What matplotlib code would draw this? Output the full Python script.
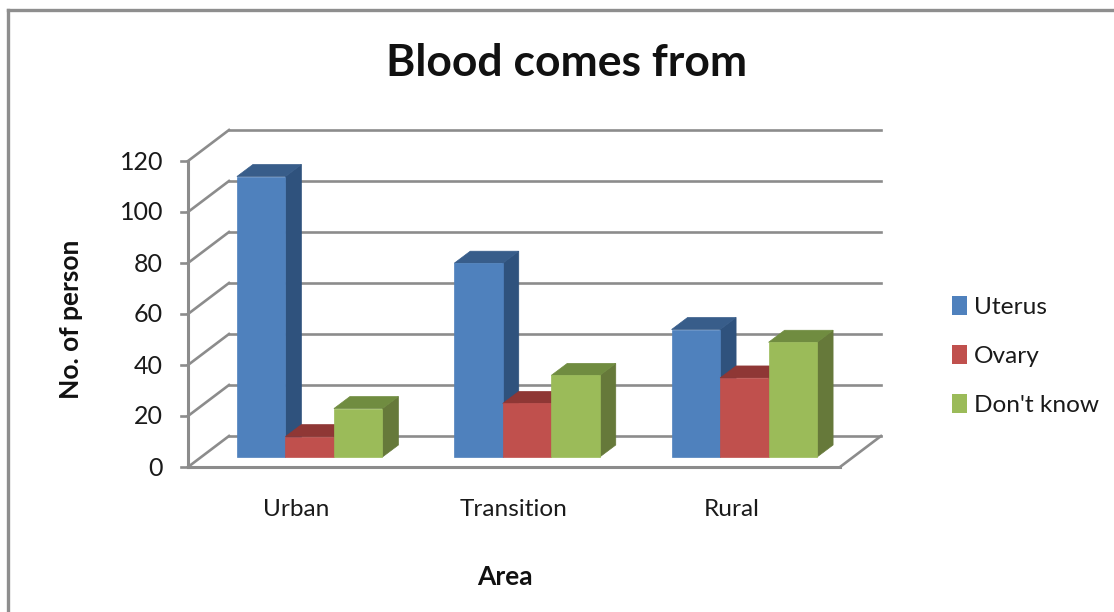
import matplotlib
matplotlib.use("Agg")
import matplotlib.pyplot as plt
from matplotlib.patches import Patch, Polygon, Rectangle
import numpy as np

plt.rcParams['font.family'] = ['Lato', 'DejaVu Sans']

areas = ['Urban', 'Transition', 'Rural']
series_names = ['Uterus', 'Ovary', "Don't know"]
uterus = [110, 76, 50]
ovary = [8, 21, 31]
dont_know = [19, 32, 45]
y_ticks = [0, 20, 40, 60, 80, 100, 120]

W, H = 1114, 612
front_cols = ['#4F81BD', '#C0504D', '#9BBB59']
side_cols = ['#2F527D', '#8A3A38', '#66793A']
top_cols = ['#385D8A', '#8F3735', '#708C40']
grid_col = '#8C8C8C'
text_col = '#1a1a1a'
small_font = 17.6

# px per data unit on the plane where the bar fronts sit
PX_X = 652 / 3.0
PX_Y = 306 / 120.0

def dx(px):
	return px / PX_X

def dy(px):
	return px / PX_Y

fig = plt.figure(figsize=(W / 100, H / 100), dpi=100)
ax = fig.add_axes([201 / W, 1 - 457 / H, 652 / W, 306 / H])
ax.set_xlim(0, 3)
ax.set_ylim(0, 120)
ax.axis('off')

# front / back offsets of the box, in data units
fx, fy = dx(-13), dy(-10)
bx, by = dx(28), dy(21)

# walls
for t in y_ticks:
	ax.plot([fx - dx(7), fx], [t + fy, t + fy], color=grid_col, lw=1.9, clip_on=False, zorder=1)
	ax.plot([fx, bx], [t + fy, t + by], color=grid_col, lw=1.9, clip_on=False, zorder=1)
	ax.plot([bx, 3 + bx], [t + by, t + by], color=grid_col, lw=1.9, clip_on=False, zorder=1)
	ax.text(fx - dx(25), t + fy - dy(1), str(t), ha='right', va='center', fontsize=18, color=text_col, clip_on=False)
ax.plot([fx, fx], [fy, 120 + fy], color=grid_col, lw=2.2, clip_on=False, zorder=1)
ax.plot([fx, 3 + fx], [fy, fy], color=grid_col, lw=2.2, clip_on=False, zorder=1)
ax.plot([3 + fx, 3 + bx], [fy, by], color=grid_col, lw=1.9, clip_on=False, zorder=1)

# bars, left to right so each one overlaps the side of the last
bar_w = 48.5 / PX_X
ddx, ddy = dx(16), dy(12)
all_vals = [uterus, ovary, dont_know]
z = 3
for c in range(len(areas)):
	for s in range(3):
		v = all_vals[s][c]
		x0 = c + 0.5 + (s - 1.5) * bar_w
		x1 = x0 + bar_w
		ax.add_patch(Polygon([(x1, 0), (x1 + ddx, ddy), (x1 + ddx, v + ddy), (x1, v)], fc=side_cols[s], ec=side_cols[s], lw=0.5, zorder=z, clip_on=False))
		ax.add_patch(Polygon([(x0, v), (x0 + ddx, v + ddy), (x1 + ddx, v + ddy), (x1, v)], fc=top_cols[s], ec=top_cols[s], lw=0.5, zorder=z, clip_on=False))
		ax.add_patch(Rectangle((x0, 0), bar_w, v, fc=front_cols[s], ec=front_cols[s], lw=0.5, zorder=z + 1, clip_on=False))
		z += 2

for c, name in enumerate(areas):
	ax.text(c + 0.5 + fx, dy(-53), name, ha='center', va='center', fontsize=small_font, color=text_col, clip_on=False)

# outer frame, only top and left show
fig.add_artist(plt.Line2D([8 / W, 8 / W], [0, 1 - 10 / H], color='#8E8E8E', lw=2.4))
fig.add_artist(plt.Line2D([8 / W, 1], [1 - 10 / H, 1 - 10 / H], color='#8E8E8E', lw=2.4))

fig.text(567 / W, 1 - 63 / H, 'Blood comes from', ha='center', va='center', fontsize=32, fontweight='bold', color='#111111')
fig.text(505 / W, 1 - 577 / H, 'Area', ha='center', va='center', fontsize=19, fontweight='bold', color='#111111')
fig.text(71 / W, 1 - 319 / H, 'No. of person', ha='center', va='center', rotation=90, fontsize=19, fontweight='bold', color='#111111')

handles = [Patch(fc=front_cols[i], ec='none', label=series_names[i]) for i in range(3)]
fig.legend(handles=handles, loc='center left', bbox_to_anchor=(952 / W, 1 - 356 / H), frameon=False, fontsize=small_font,
	handlelength=0.6, handleheight=0.85, handletextpad=0.3, labelspacing=1.1, borderpad=0, borderaxespad=0, labelcolor=text_col)

fig.savefig('out.png', dpi=100)
